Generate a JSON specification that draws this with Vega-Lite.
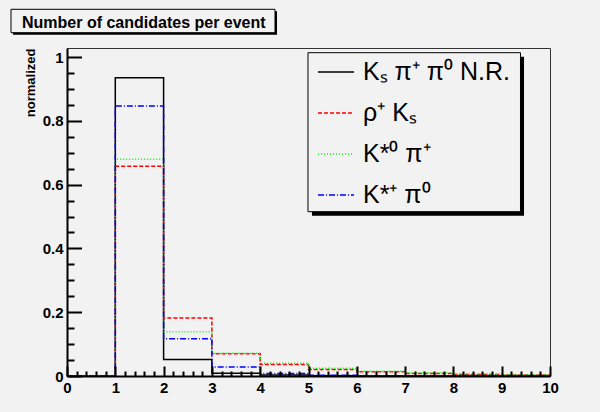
{
  "$schema": "https://vega.github.io/schema/vega-lite/v6.json",
  "width": 483,
  "height": 328,
  "autosize": "none",
  "padding": {"left": 67, "top": 48, "right": 50, "bottom": 36},
  "background": "#f2f2f2",
  "config": {
    "font": "Liberation Sans",
    "view": {"stroke": "#333333", "strokeWidth": 1}
  },
  "resolve": {"axis": {"x": "independent", "y": "independent"}},
  "layer": [
    {
      "description": "title box shadow",
      "data": {"values": [{}]},
      "mark": {"type": "rect", "fill": "#000000"},
      "encoding": {
        "x": {"datum": -1.118, "type": "quantitative", "axis": null},
        "x2": {"datum": 4.348},
        "y": {"datum": 1.1436, "type": "quantitative", "axis": null},
        "y2": {"datum": 1.0702}
      }
    },
    {
      "description": "title box, carries the minor ticks",
      "data": {"values": [{}]},
      "mark": {"type": "rect", "fill": "#f2f2f2", "stroke": "#000000", "strokeWidth": 1},
      "encoding": {
        "x": {
          "datum": -1.1594, "type": "quantitative",
          "axis": {
            "orient": "bottom",
            "values": [0.2,0.4,0.6,0.8,1.2,1.4,1.6,1.8,2.2,2.4,2.6,2.8,3.2,3.4,3.6,3.8,4.2,4.4,4.6,4.8,5.2,5.4,5.6,5.8,6.2,6.4,6.6,6.8,7.2,7.4,7.6,7.8,8.2,8.4,8.6,8.8,9.2,9.4,9.6,9.8],
            "labels": false, "domain": false, "grid": false, "title": null,
            "ticks": true, "tickSize": -5, "tickWidth": 2, "tickColor": "#000000", "zindex": 1
          }
        },
        "x2": {"datum": 4.3064},
        "y": {
          "datum": 1.1499, "type": "quantitative",
          "axis": {
            "orient": "left",
            "values": [0.05,0.1,0.15,0.25,0.3,0.35,0.45,0.5,0.55,0.65,0.7,0.75,0.85,0.9,0.95],
            "labels": false, "domain": false, "grid": false, "title": null,
            "ticks": true, "tickSize": -7, "tickWidth": 2, "tickColor": "#000000", "zindex": 1
          }
        },
        "y2": {"datum": 1.0765}
      }
    },
    {
      "description": "title text",
      "data": {"values": [{"label": "Number of candidates per event"}]},
      "mark": {"type": "text", "align": "left", "baseline": "alphabetic", "fontSize": 16, "fontWeight": "bold", "color": "#000000"},
      "encoding": {
        "x": {"datum": -0.9317, "type": "quantitative", "axis": null},
        "y": {"datum": 1.0913, "type": "quantitative", "axis": null},
        "text": {"field": "label"}
      }
    },
    {
      "description": "legend box shadow",
      "data": {"values": [{}]},
      "mark": {"type": "rect", "fill": "#000000"},
      "encoding": {
        "x": {"datum": 5.072, "type": "quantitative", "axis": null},
        "x2": {"datum": 9.462},
        "y": {"datum": 1.0013, "type": "quantitative", "axis": null},
        "y2": {"datum": 0.5027}
      }
    },
    {
      "description": "legend box, carries the major ticks",
      "data": {"values": [{}]},
      "mark": {"type": "rect", "fill": "#f2f2f2", "stroke": "#000000", "strokeWidth": 1},
      "encoding": {
        "x": {
          "datum": 4.9896, "type": "quantitative",
          "axis": {
            "orient": "bottom",
            "values": [0,1,2,3,4,5,6,7,8,9,10],
            "labels": false, "domain": false, "grid": false, "title": null,
            "ticks": true, "tickSize": -10, "tickWidth": 2, "tickColor": "#000000", "zindex": 1
          }
        },
        "x2": {"datum": 9.389},
        "y": {
          "datum": 1.0138, "type": "quantitative",
          "axis": {
            "orient": "left",
            "values": [0,0.2,0.4,0.6,0.8,1],
            "labels": false, "domain": false, "grid": false, "title": null,
            "ticks": true, "tickSize": -14.5, "tickWidth": 2, "tickColor": "#000000", "zindex": 1
          }
        },
        "y2": {"datum": 0.5152}
      }
    },
    {
      "description": "histogram outlines, one row per bin",
      "data": {
        "values": [
          {"series": "Kₛ π⁺ π⁰ N.R.", "lo": 0, "hi": 1, "value": 0},
          {"series": "Kₛ π⁺ π⁰ N.R.", "lo": 1, "hi": 2, "value": 0.935},
          {"series": "Kₛ π⁺ π⁰ N.R.", "lo": 2, "hi": 3, "value": 0.052},
          {"series": "Kₛ π⁺ π⁰ N.R.", "lo": 3, "hi": 4, "value": 0.009},
          {"series": "Kₛ π⁺ π⁰ N.R.", "lo": 4, "hi": 5, "value": 0.003},
          {"series": "Kₛ π⁺ π⁰ N.R.", "lo": 5, "hi": 6, "value": 0.001},
          {"series": "Kₛ π⁺ π⁰ N.R.", "lo": 6, "hi": 7, "value": 0},
          {"series": "Kₛ π⁺ π⁰ N.R.", "lo": 7, "hi": 8, "value": 0},
          {"series": "Kₛ π⁺ π⁰ N.R.", "lo": 8, "hi": 9, "value": 0},
          {"series": "Kₛ π⁺ π⁰ N.R.", "lo": 9, "hi": 10, "value": 0},
          {"series": "ρ⁺ Kₛ", "lo": 0, "hi": 1, "value": 0},
          {"series": "ρ⁺ Kₛ", "lo": 1, "hi": 2, "value": 0.658},
          {"series": "ρ⁺ Kₛ", "lo": 2, "hi": 3, "value": 0.182},
          {"series": "ρ⁺ Kₛ", "lo": 3, "hi": 4, "value": 0.070},
          {"series": "ρ⁺ Kₛ", "lo": 4, "hi": 5, "value": 0.036},
          {"series": "ρ⁺ Kₛ", "lo": 5, "hi": 6, "value": 0.020},
          {"series": "ρ⁺ Kₛ", "lo": 6, "hi": 7, "value": 0.013},
          {"series": "ρ⁺ Kₛ", "lo": 7, "hi": 8, "value": 0.008},
          {"series": "ρ⁺ Kₛ", "lo": 8, "hi": 9, "value": 0.005},
          {"series": "ρ⁺ Kₛ", "lo": 9, "hi": 10, "value": 0.003},
          {"series": "K*⁰ π⁺", "lo": 0, "hi": 1, "value": 0},
          {"series": "K*⁰ π⁺", "lo": 1, "hi": 2, "value": 0.680},
          {"series": "K*⁰ π⁺", "lo": 2, "hi": 3, "value": 0.139},
          {"series": "K*⁰ π⁺", "lo": 3, "hi": 4, "value": 0.071},
          {"series": "K*⁰ π⁺", "lo": 4, "hi": 5, "value": 0.040},
          {"series": "K*⁰ π⁺", "lo": 5, "hi": 6, "value": 0.024},
          {"series": "K*⁰ π⁺", "lo": 6, "hi": 7, "value": 0.015},
          {"series": "K*⁰ π⁺", "lo": 7, "hi": 8, "value": 0.010},
          {"series": "K*⁰ π⁺", "lo": 8, "hi": 9, "value": 0.006},
          {"series": "K*⁰ π⁺", "lo": 9, "hi": 10, "value": 0.004},
          {"series": "K*⁺ π⁰", "lo": 0, "hi": 1, "value": 0},
          {"series": "K*⁺ π⁰", "lo": 1, "hi": 2, "value": 0.847},
          {"series": "K*⁺ π⁰", "lo": 2, "hi": 3, "value": 0.117},
          {"series": "K*⁺ π⁰", "lo": 3, "hi": 4, "value": 0.028},
          {"series": "K*⁺ π⁰", "lo": 4, "hi": 5, "value": 0.008},
          {"series": "K*⁺ π⁰", "lo": 5, "hi": 6, "value": 0.002},
          {"series": "K*⁺ π⁰", "lo": 6, "hi": 7, "value": 0.001},
          {"series": "K*⁺ π⁰", "lo": 7, "hi": 8, "value": 0},
          {"series": "K*⁺ π⁰", "lo": 8, "hi": 9, "value": 0},
          {"series": "K*⁺ π⁰", "lo": 9, "hi": 10, "value": 0}
        ]
      },
      "transform": [{"fold": ["lo", "hi"], "as": ["edge", "x"]}],
      "mark": {"type": "line", "strokeWidth": 1.5, "clip": true},
      "encoding": {
        "x": {
          "field": "x", "type": "quantitative",
          "scale": {"domain": [0, 10], "nice": false, "zero": false},
          "axis": {
            "orient": "bottom",
            "values": [0,1,2,3,4,5,6,7,8,9,10], "format": "d",
            "ticks": false, "grid": false, "title": null,
            "domain": true, "domainColor": "#000000", "domainWidth": 2,
            "labelFont": "Liberation Sans", "labelFontSize": 15, "labelFontWeight": "bold",
            "labelColor": "#000000", "labelPadding": 4, "labelFlush": false, "labelOverlap": false,
            "zindex": 1
          }
        },
        "y": {
          "field": "value", "type": "quantitative",
          "scale": {"domain": [0, 1.0285], "nice": false, "zero": true},
          "axis": {
            "orient": "left",
            "values": [0,0.2,0.4,0.6,0.8,1], "format": "~g",
            "ticks": false, "grid": false,
            "domain": true, "domainColor": "#000000", "domainWidth": 2,
            "labelFont": "Liberation Sans", "labelFontSize": 15, "labelFontWeight": "bold",
            "labelColor": "#000000", "labelPadding": 4, "labelFlush": false, "labelOverlap": false,
            "title": "normalized", "titleFont": "Liberation Sans", "titleFontSize": 13, "titleFontWeight": "bold",
            "titleColor": "#000000", "titleAngle": -90, "titleAlign": "right", "titleBaseline": "alphabetic",
            "titleX": -33, "titleY": 0,
            "zindex": 1
          }
        },
        "color": {
          "field": "series", "type": "nominal",
          "scale": {
            "domain": ["Kₛ π⁺ π⁰ N.R.", "ρ⁺ Kₛ", "K*⁰ π⁺", "K*⁺ π⁰"],
            "range": ["#000000", "#ff0000", "#00ff00", "#0000ff"]
          },
          "legend": {
            "orient": "none", "legendX": 250, "legendY": 5, "title": null,
            "symbolType": "stroke", "symbolSize": 1296, "symbolStrokeWidth": 1.5,
            "labelFont": "Liberation Sans", "labelFontSize": 25, "labelColor": "#000000",
            "labelOffset": 8, "rowPadding": 9, "padding": 0, "labelLimit": 400
          }
        },
        "strokeDash": {
          "field": "series", "type": "nominal",
          "scale": {
            "domain": ["Kₛ π⁺ π⁰ N.R.", "ρ⁺ Kₛ", "K*⁰ π⁺", "K*⁺ π⁰"],
            "range": [[1, 0], [4, 2], [1, 2], [6, 2, 1, 2]]
          },
          "legend": {
            "orient": "none", "legendX": 250, "legendY": 5, "title": null,
            "symbolType": "stroke", "symbolSize": 1296, "symbolStrokeWidth": 1.5,
            "labelFont": "Liberation Sans", "labelFontSize": 25, "labelColor": "#000000",
            "labelOffset": 8, "rowPadding": 9, "padding": 0, "labelLimit": 400
          }
        },
        "order": [
          {"field": "x", "type": "quantitative"},
          {"field": "edge", "type": "nominal"}
        ]
      }
    }
  ]
}
